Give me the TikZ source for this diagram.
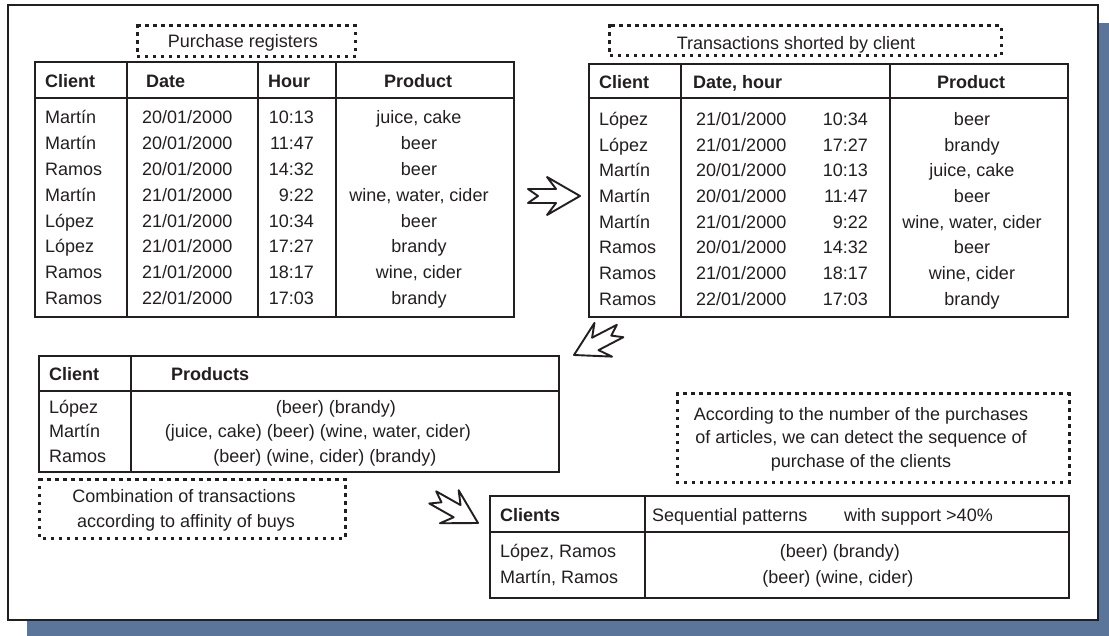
\documentclass[tikz,border=0pt]{standalone}
\usepackage{fontspec}
\setmainfont{Liberation Sans}
\definecolor{ink}{RGB}{35,31,32}
\definecolor{shadowblue}{RGB}{91,116,153}
\begin{document}
\begin{tikzpicture}[x=1pt,y=-1pt,
  every node/.style={font=\fontsize{18}{21}\selectfont, inner sep=0pt, text height=12.9pt, text depth=0pt, text=ink},
  hd/.style={font=\fontsize{18}{21}\selectfont\bfseries},
  tbl/.style={draw=ink, line width=1.9pt},
  dotbox/.style={draw=ink, line width=3pt, line cap=rect, dash pattern=on 0.2pt off 7.8pt},
  blockar/.style={draw=ink, fill=white, line width=1.9pt, line join=round},
  pics/notcharrow/.style={code={
    \draw[blockar] (0,0) -- (-33,-19) -- (-24,-7) -- (-52,-7) -- (-42,0) -- (-52,7) -- (-24,7) -- (-33,19) -- cycle;}}
]
\useasboundingbox (0,0) rectangle (1109,636);
% background frame and shadow
\fill[shadowblue] (27,23) rectangle (1109,636);
\draw[fill=white, draw=ink, line width=2.2pt] (8,5) rectangle (1098,620);

% ---------- Table 1: purchase registers ----------
\draw[dotbox] (137,26) rectangle (355,57);
\node (prlabel) at (243,41) {Purchase registers};
\draw[tbl] (35,62) rectangle (514,317);
\draw[tbl] (35,98) -- (514,98);
\draw[tbl] (127,62) -- (127,317);
\draw[tbl] (258,62) -- (258,317);
\draw[tbl] (336,62) -- (336,317);
\node[hd, anchor=west] (t1hc) at (45,81) {Client};
\node[hd, anchor=west] (t1hd) at (146,81) {Date};
\node[hd, anchor=west] (t1hh) at (268,81) {Hour};
\node[hd] (t1hp) at (418,81) {Product};
\foreach \c/\d/\h/\p [count=\i from 0] in {
  Martín/{20/01/2000}/10:13/{juice, cake},
  Martín/{20/01/2000}/11:47/beer,
  Ramos/{20/01/2000}/14:32/beer,
  Martín/{21/01/2000}/9:22/{wine, water, cider},
  López/{21/01/2000}/10:34/beer,
  López/{21/01/2000}/17:27/brandy,
  Ramos/{21/01/2000}/18:17/{wine, cider},
  Ramos/{22/01/2000}/17:03/brandy}{
  \pgfmathsetmacro{\yy}{117+25.9*\i}
  \node[anchor=west] (t1c\i) at (45,\yy) {\c};
  \node[anchor=west] (t1d\i) at (142,\yy) {\d};
  \node[anchor=east] (t1h\i) at (314,\yy) {\h};
  \node (t1p\i) at (419,\yy) {\p};
}

% ---------- Table 2: transactions sorted ----------
\draw[dotbox] (609,26) rectangle (1001,56);
\node (tslabel) at (796,43) {Transactions shorted by client};
\draw[tbl] (589,64) rectangle (1068,317);
\draw[tbl] (589,98) -- (1068,98);
\draw[tbl] (681,64) -- (681,317);
\draw[tbl] (890,64) -- (890,317);
\node[hd, anchor=west] (t2hc) at (599,82) {Client};
\node[hd, anchor=west] (t2hd) at (693,82) {Date, hour};
\node[hd] (t2hp) at (971,82) {Product};
\foreach \c/\d/\h/\p [count=\i from 0] in {
  López/{21/01/2000}/10:34/beer,
  López/{21/01/2000}/17:27/brandy,
  Martín/{20/01/2000}/10:13/{juice, cake},
  Martín/{20/01/2000}/11:47/beer,
  Martín/{21/01/2000}/9:22/{wine, water, cider},
  Ramos/{20/01/2000}/14:32/beer,
  Ramos/{21/01/2000}/18:17/{wine, cider},
  Ramos/{22/01/2000}/17:03/brandy}{
  \pgfmathsetmacro{\yy}{119+25.7*\i}
  \node[anchor=west] (t2c\i) at (599,\yy) {\c};
  \node[anchor=west] (t2d\i) at (696,\yy) {\d};
  \node[anchor=east] (t2h\i) at (868,\yy) {\h};
  \node (t2p\i) at (972,\yy) {\p};
}

% ---------- Table 3: combination ----------
\draw[tbl] (39,356) rectangle (559,472);
\draw[tbl] (39,391) -- (559,391);
\draw[tbl] (131,356) -- (131,472);
\node[hd, anchor=west] (t3hc) at (49,374) {Client};
\node[hd, anchor=west] (t3hp) at (171,374) {Products};
\node[anchor=west] (t3c0) at (49,407) {López};
\node[anchor=west] (t3c1) at (49,431) {Martín};
\node[anchor=west] (t3c2) at (49,456) {Ramos};
\node (t3p0) at (336,407) {(beer) (brandy)};
\node (t3p1) at (318,431) {(juice, cake) (beer) (wine, water, cider)};
\node (t3p2) at (325,456) {(beer) (wine, cider) (brandy)};
\draw[dotbox] (39,479) rectangle (345,538);
\node (cb1) at (184,496) {Combination of transactions};
\node (cb2) at (186,521) {according to affinity of buys};

% ---------- Note box ----------
\draw[dotbox] (677,394) rectangle (1069,482);
\node (nt1) at (861,414) {According to the number of the purchases};
\node (nt2) at (861,437) {of articles, we can detect the sequence of};
\node (nt3) at (861,461) {purchase of the clients};

% ---------- Table 4: patterns ----------
\draw[tbl] (490,496) rectangle (1069,598);
\draw[tbl] (490,532) -- (1069,532);
\draw[tbl] (645,496) -- (645,598);
\node[hd, anchor=west] (t4hc) at (500,515) {Clients};
\node[anchor=west] (t4hp) at (652,515) {Sequential patterns};
\node[anchor=west] (t4hs) at (844,515) {with support >40\%};
\node[anchor=west] (t4c0) at (500,551) {López, Ramos};
\node[anchor=west] (t4c1) at (500,577) {Martín, Ramos};
\node (t4p0) at (840,551) {(beer) (brandy)};
\node (t4p1) at (838,577) {(beer) (wine, cider)};

% ---------- block arrows ----------
\pic[rotate=0] at (580,196) {notcharrow};
\pic[rotate=207.5] at (574,355) {notcharrow};
\pic[rotate=-29.5] at (478,523) {notcharrow};
\end{tikzpicture}
\end{document}
